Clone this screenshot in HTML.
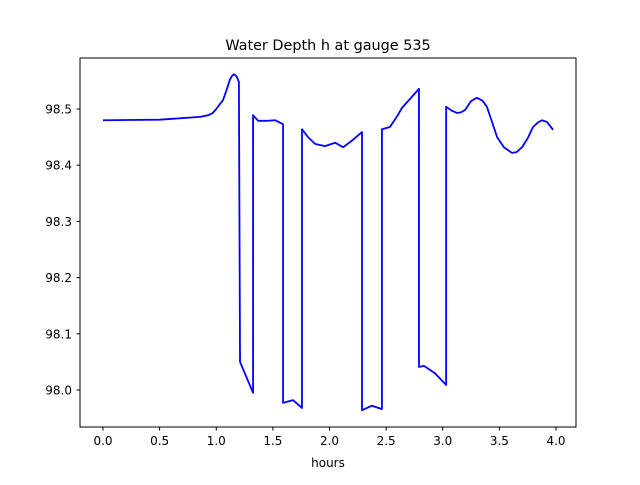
<!DOCTYPE html>
<html><head><meta charset="utf-8"><style>
body{margin:0;background:#fff}
svg{font-family:"DejaVu Sans","Liberation Sans",sans-serif}
</style></head><body>
<svg id="chart" width="640" height="480">
<rect width="640" height="480" fill="#fff"/>
<text x="328" y="50" text-anchor="middle" font-size="14.4">Water Depth h at gauge 535</text>
<g id="axes"></g>
<polyline id="line" fill="none" stroke="#0000ff" stroke-width="1.8" stroke-linejoin="round"/>
<rect x="80" y="58" width="496" height="369" fill="none" stroke="#000" stroke-width="1"/>
<text x="328" y="467" text-anchor="middle" font-size="12">hours</text>
</svg>
<script>
const times=[0,0.5,0.857,0.93,0.97,1.0,1.06,1.09,1.12,1.14,1.157,1.18,1.20,1.21,1.325,1.325,1.37,1.45,1.52,1.59,1.59,1.677,1.757,1.757,1.81,1.872,1.96,2.05,2.12,2.2,2.287,2.287,2.375,2.463,2.463,2.534,2.6,2.64,2.72,2.79,2.79,2.834,2.93,3.03,3.03,3.08,3.126,3.16,3.196,3.25,3.30,3.35,3.39,3.43,3.48,3.54,3.61,3.65,3.70,3.75,3.797,3.84,3.876,3.92,3.974];
const depths=[98.480,98.481,98.486,98.489,98.493,98.50,98.516,98.533,98.552,98.559,98.562,98.558,98.548,98.05,97.995,98.489,98.479,98.479,98.48,98.473,97.977,97.982,97.968,98.464,98.45,98.438,98.434,98.44,98.432,98.444,98.459,97.964,97.972,97.966,98.464,98.468,98.488,98.502,98.52,98.536,98.041,98.043,98.03,98.009,98.504,98.497,98.493,98.494,98.498,98.514,98.52,98.515,98.504,98.48,98.45,98.432,98.422,98.423,98.432,98.448,98.468,98.476,98.48,98.477,98.463];
const xTicks=[0,0.5,1,1.5,2,2.5,3,3.5,4];
const yTicks=[98.0,98.1,98.2,98.3,98.4,98.5];
const xs=t=>103+t*113.25;
const ys=h=>109+(98.5-h)*562;
const ns="http://www.w3.org/2000/svg";
const ax=document.getElementById('axes');
xTicks.forEach(t=>{
  const l=document.createElementNS(ns,'line');
  
  
  l.setAttribute('x1',xs(t));l.setAttribute('x2',xs(t));l.setAttribute('y1',427);l.setAttribute('y2',430.5);l.setAttribute('stroke','#000');
  ax.appendChild(l);
  const tx=document.createElementNS(ns,'text');
  
  
  tx.setAttribute('x',xs(t));tx.setAttribute('y',445);tx.setAttribute('text-anchor','middle');tx.setAttribute('font-size','12');
  tx.textContent=t.toFixed(1);ax.appendChild(tx);
});
yTicks.forEach(h=>{
  const l=document.createElementNS(ns,'line');
  
  
  l.setAttribute('x1',76.5);l.setAttribute('x2',80);l.setAttribute('y1',ys(h));l.setAttribute('y2',ys(h));l.setAttribute('stroke','#000');
  ax.appendChild(l);
  const tx=document.createElementNS(ns,'text');
  
  
  tx.setAttribute('x',72);tx.setAttribute('y',ys(h)+4.5);tx.setAttribute('text-anchor','end');tx.setAttribute('font-size','12');
  tx.textContent=h.toFixed(1);ax.appendChild(tx);
});
document.getElementById('line').setAttribute('points',times.map((t,i)=>xs(t)+','+ys(depths[i])).join(' '));
</script>
</body></html>
